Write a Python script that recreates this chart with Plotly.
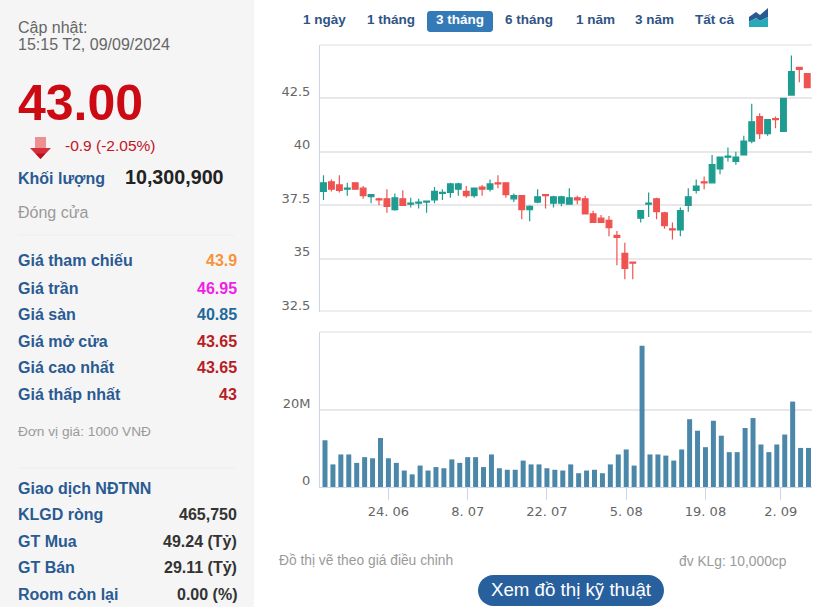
import plotly.graph_objects as go

WIDTH = 833
HEIGHT = 615

# 62 phiên giao dịch, 12/06 -> 09/09/2024 (nghỉ lễ 2-3/09)
days = [
    "12.06", "13.06", "14.06", "17.06", "18.06", "19.06", "20.06", "21.06", "24.06", "25.06",
    "26.06", "27.06", "28.06", "01.07", "02.07", "03.07", "04.07", "05.07", "08.07", "09.07",
    "10.07", "11.07", "12.07", "15.07", "16.07", "17.07", "18.07", "19.07", "22.07", "23.07",
    "24.07", "25.07", "26.07", "29.07", "30.07", "31.07", "01.08", "02.08", "05.08", "06.08",
    "07.08", "08.08", "09.08", "12.08", "13.08", "14.08", "15.08", "16.08", "19.08", "20.08",
    "21.08", "22.08", "23.08", "26.08", "27.08", "28.08", "29.08", "30.08", "04.09", "05.09",
    "06.09", "09.09",
]
open_prices = [
    38.15, 38.6, 38.45, 38.25, 38.55, 38.3, 37.9, 37.8, 37.8, 37.3,
    37.8, 37.55, 37.6, 37.65, 37.75, 38.05, 38.1, 38.25, 38.15, 37.95,
    38.35, 38.25, 38.55, 38.55, 37.8, 37.95, 37.3, 37.65, 38.0, 37.6,
    37.6, 37.55, 37.85, 37.8, 37.1, 36.9, 36.8, 36.1, 35.25, 34.85,
    36.9, 37.55, 37.8, 37.15, 36.4, 36.35, 37.5, 38.2, 38.6, 38.55,
    39.2, 39.75, 39.55, 39.85, 40.5, 41.65, 40.85, 41.55, 40.95, 42.65,
    43.95, 43.65,
]
high_prices = [
    38.9, 38.7, 38.9, 38.55, 38.55, 38.4, 38.0, 37.85, 38.25, 38.05,
    38.2, 37.85, 37.8, 37.7, 38.35, 38.25, 38.55, 38.55, 38.4, 38.3,
    38.45, 38.7, 38.9, 38.55, 38.05, 37.95, 37.5, 38.25, 38.0, 37.95,
    37.95, 38.3, 37.95, 37.95, 37.25, 37.05, 37.0, 36.3, 35.75, 34.85,
    37.25, 38.1, 37.85, 37.2, 36.7, 37.4, 38.3, 38.7, 38.85, 39.85,
    39.75, 40.2, 40.0, 40.75, 42.25, 41.8, 41.5, 41.65, 42.5, 44.5,
    43.95, 43.65,
]
low_prices = [
    37.75, 38.15, 38.1, 37.95, 38.25, 37.8, 37.6, 37.5, 37.15, 37.25,
    37.5, 37.4, 37.35, 37.15, 37.6, 37.75, 37.85, 37.95, 37.85, 37.85,
    37.95, 38.15, 38.3, 37.85, 37.65, 36.85, 36.75, 37.6, 37.35, 37.4,
    37.45, 37.55, 37.55, 37.1, 36.7, 36.7, 36.05, 34.7, 34.05, 34.05,
    36.7, 36.95, 36.85, 36.4, 35.9, 36.05, 37.2, 38.05, 38.25, 38.55,
    38.95, 39.55, 39.4, 39.85, 40.4, 40.6, 40.75, 41.1, 40.95, 42.65,
    43.25, 43.0,
]
close_prices = [
    38.55, 38.25, 38.2, 38.3, 38.25, 37.95, 38.0, 37.75, 37.45, 37.85,
    37.5, 37.6, 37.65, 37.7, 38.15, 38.1, 38.5, 38.5, 37.95, 38.3,
    38.25, 38.5, 38.5, 38.0, 37.95, 37.3, 37.45, 37.9, 37.95, 37.9,
    37.9, 37.85, 37.75, 37.1, 36.7, 36.7, 36.45, 36.0, 34.55, 34.8,
    37.25, 37.6, 37.2, 36.55, 36.35, 37.25, 37.9, 38.4, 38.55, 39.4,
    39.75, 39.8, 39.75, 40.5, 41.4, 40.85, 41.5, 41.5, 42.5, 43.75,
    43.85, 43.0,
]
volumes = [
    12.2, 5.9, 8.5, 8.5, 6.3, 7.8, 7.5, 12.8, 7.5, 6.3,
    4.3, 3.3, 5.6, 4.3, 5.2, 4.9, 7.2, 6.3, 7.8, 7.8,
    5.2, 8.5, 4.9, 4.5, 4.5, 6.9, 5.9, 5.9, 4.9, 4.5,
    4.3, 5.9, 3.6, 4.3, 4.5, 3.6, 5.9, 8.5, 9.8, 5.6,
    36.9, 8.5, 8.5, 8.2, 6.9, 9.8, 17.7, 14.7, 10.4, 17.3,
    13.4, 9.1, 9.1, 15.4, 18.0, 11.1, 9.1, 11.1, 13.7, 22.3,
    10.2, 10.2,
]

price_ticks = [32.5, 35, 37.5, 40, 42.5]
price_tick_labels = ["32.5", "35", "37.5", "40", "42.5"]
volume_ticks = [0, 20]
volume_tick_labels = ["0", "20M"]
# 2.09 khong co phien, nhan nam giua 30.08 va 04.09
date_ticks = [8, 18, 28, 38, 48, 57.5]
date_tick_labels = ["24. 06", "8. 07", "22. 07", "5. 08", "19. 08", "2. 09"]

range_buttons = ["1 ngày", "1 tháng", "3 tháng", "6 tháng", "1 năm", "3 năm", "Tất cả"]
range_centers = [324.5, 391, 460, 529, 595, 654, 715]

info_labels = ["Giá tham chiếu", "Giá trần", "Giá sàn", "Giá mở cửa", "Giá cao nhất", "Giá thấp nhất"]
info_values = ["43.9", "46.95", "40.85", "43.65", "43.65", "43"]
info_colors = ["#f7933c", "#f01fe8", "#1f6a9a", "#b81d24", "#b81d24", "#b81d24"]
info_rows = [261, 288, 314, 341, 367, 394]

foreign_labels = ["KLGD ròng", "GT Mua", "GT Bán", "Room còn lại"]
foreign_values = ["465,750", "49.24 (Tỷ)", "29.11 (Tỷ)", "0.00 (%)"]
foreign_rows = [514, 541, 567, 594]

FONT = "Liberation Sans"
BLUE = "#2a5a92"
GREY_TEXT = "#9a9a9a"
TEAL = "#1f9c90"
RED = "#ef5350"
GRID = "#e8e8ea"
AXIS = "#ccd6eb"


def px(x):
    return x / WIDTH


def py(y):
    return 1 - y / HEIGHT


def add_text(fig, x, y, text, size, color, bold=False, anchor="left"):
    if bold:
        text = "<b>" + text + "</b>"
    fig.add_annotation(x=px(x), y=py(y), xref="paper", yref="paper", text=text, showarrow=False,
                       xanchor=anchor, yanchor="middle", borderpad=0, borderwidth=0,
                       font=dict(family=FONT, size=size, color=color))


def add_poly(fig, points, color):
    path = "M " + " L ".join(f"{px(x):.5f},{py(y):.5f}" for x, y in points) + " Z"
    fig.add_shape(type="path", path=path, xref="paper", yref="paper", fillcolor=color,
                  line=dict(width=0), layer="above")


def add_pill(fig, x0, y0, x1, y1, r, color):
    k = r * 0.45
    pts = [
        ("M", x0 + r, y0), ("L", x1 - r, y0), ("C", x1 - k, y0, x1, y0 + k, x1, y0 + r),
        ("L", x1, y1 - r), ("C", x1, y1 - k, x1 - k, y1, x1 - r, y1),
        ("L", x0 + r, y1), ("C", x0 + k, y1, x0, y1 - k, x0, y1 - r),
        ("L", x0, y0 + r), ("C", x0, y0 + k, x0 + k, y0, x0 + r, y0),
    ]
    parts = []
    for p in pts:
        coords = p[1:]
        pairs = [f"{px(coords[i]):.5f},{py(coords[i + 1]):.5f}" for i in range(0, len(coords), 2)]
        parts.append(p[0] + " " + " ".join(pairs))
    fig.add_shape(type="path", path=" ".join(parts) + " Z", xref="paper", yref="paper",
                  fillcolor=color, line=dict(width=0), layer="below")


fig = go.Figure()

fig.add_trace(go.Candlestick(
    x=days, open=open_prices, high=high_prices, low=low_prices, close=close_prices,
    xaxis="x", yaxis="y", whiskerwidth=0,
    increasing=dict(line=dict(color=TEAL, width=1.2), fillcolor=TEAL),
    decreasing=dict(line=dict(color=RED, width=1.2), fillcolor=RED),
))
fig.add_trace(go.Bar(x=days, y=volumes, xaxis="x2", yaxis="y2", marker=dict(color="#4b87a8", line=dict(width=0))))

fig.update_layout(
    width=WIDTH, height=HEIGHT, margin=dict(l=0, r=0, t=0, b=0),
    paper_bgcolor="white", plot_bgcolor="white", showlegend=False,
    boxgap=0.28, boxgroupgap=0, bargap=0.37,
    xaxis=dict(type="category", domain=[px(320), px(812)], range=[-0.44, 61.6], anchor="y",
               automargin=False, rangeslider=dict(visible=False), showticklabels=False,
               showgrid=False, zeroline=False, ticks=""),
    yaxis=dict(domain=[py(312.3), py(45)], range=[32.5, 44.99], anchor="x", automargin=False,
               tickvals=price_ticks, ticktext=price_tick_labels, gridcolor=GRID, gridwidth=1.5,
               zeroline=False, showline=True, linecolor=AXIS, linewidth=1, ticks="",
               ticklabelstandoff=6, ticklabelshift=-7,
               tickfont=dict(family="DejaVu Sans", size=13, color="#666666")),
    xaxis2=dict(type="category", domain=[px(320), px(812)], range=[-0.63, 61.44], anchor="y2",
                automargin=False, tickvals=date_ticks, ticktext=date_tick_labels, showgrid=False,
                zeroline=False, showline=True, linecolor=AXIS, linewidth=1, ticks="outside",
                ticklen=12, tickcolor=AXIS, tickwidth=1, tickangle=0,
                tickfont=dict(family="DejaVu Sans", size=13, color="#666666")),
    yaxis2=dict(domain=[py(487), py(332)], range=[0, 40.47], anchor="x2", automargin=False,
                tickvals=volume_ticks, ticktext=volume_tick_labels, gridcolor=GRID, gridwidth=1.5,
                zeroline=False, showline=True, linecolor=AXIS, linewidth=1, ticks="",
                ticklabelstandoff=6, ticklabelshift=-7,
                tickfont=dict(family="DejaVu Sans", size=13, color="#666666")),
)

# khung tren cua hai o bieu do
for y in [45, 311, 332]:
    fig.add_shape(type="line", xref="paper", yref="paper", x0=px(320), x1=px(812), y0=py(y), y1=py(y),
                  line=dict(color=GRID, width=1.5), layer="below")

# cot trai
fig.add_shape(type="rect", xref="paper", yref="paper", x0=0, x1=px(254), y0=py(607), y1=1,
              fillcolor="#f5f5f5", line=dict(width=0), layer="below")
for y in [235, 468]:
    fig.add_shape(type="line", xref="paper", yref="paper", x0=px(18), x1=px(235), y0=py(y), y1=py(y),
                  line=dict(color="#eeeeee", width=1), layer="below")

add_text(fig, 18, 27, "Cập nhật:", 16, "#666666")
add_text(fig, 18, 45, "15:15 T2, 09/09/2024", 16, "#666666")
add_text(fig, 18, 103, "43.00", 50, "#cc0a14", bold=True)
add_text(fig, 65, 145, "-0.9 (-2.05%)", 15.5, "#c0141f")
add_text(fig, 18, 178, "Khối lượng", 16, BLUE, bold=True)
add_text(fig, 125, 177, "10,300,900", 19.7, "#222222", bold=True)
add_text(fig, 18, 213, "Đóng cửa", 16, GREY_TEXT)

# mui ten giam
add_poly(fig, [(35, 137), (46, 137), (46, 148), (35, 148)], "#ee8f92")
add_poly(fig, [(30, 148), (51, 148), (40.5, 159)], "#d5303a")
add_poly(fig, [(35.5, 153.5), (45.5, 153.5), (40.5, 159)], "#b9121e")

for label, value, color, y in zip(info_labels, info_values, info_colors, info_rows):
    add_text(fig, 18, y, label, 16, BLUE, bold=True)
    add_text(fig, 237, y, value, 16, color, bold=True, anchor="right")
add_text(fig, 18, 431, "Đơn vị giá: 1000 VNĐ", 13.7, GREY_TEXT)

add_text(fig, 18, 488, "Giao dịch NĐTNN", 16, BLUE, bold=True)
for label, value, y in zip(foreign_labels, foreign_values, foreign_rows):
    add_text(fig, 18, y, label, 16, BLUE, bold=True)
    add_text(fig, 237, y, value, 16, "#333333", bold=True, anchor="right")

# chon khoang thoi gian
add_pill(fig, 427, 11, 493, 32, 3, "#337ab7")
for label, x in zip(range_buttons, range_centers):
    color = "white" if label == "3 tháng" else "#2f5486"
    add_text(fig, x, 20, label, 13.5, color, bold=True, anchor="center")
add_poly(fig, [(749, 17), (756, 12), (760, 15), (768, 8), (768, 17), (760, 21), (756, 18), (749, 22)], "#2a5a92")
add_poly(fig, [(749, 22), (756, 18), (760, 21), (768, 17), (768, 27), (749, 27)], "#27a9b8")

# chu thich duoi
add_text(fig, 279, 560, "Đồ thị vẽ theo giá điều chỉnh", 13.8, GREY_TEXT)
add_text(fig, 787, 561, "đv KLg: 10,000cp", 13.8, GREY_TEXT, anchor="right")
add_pill(fig, 478, 575, 664, 606, 15.5, "#28609e")
add_text(fig, 571, 589, "Xem đồ thị kỹ thuật", 18.7, "white", anchor="center")

fig.write_html("out.html", config=dict(displayModeBar=False),
               post_script="document.body.style.margin='0';document.body.style.overflow='hidden';")
